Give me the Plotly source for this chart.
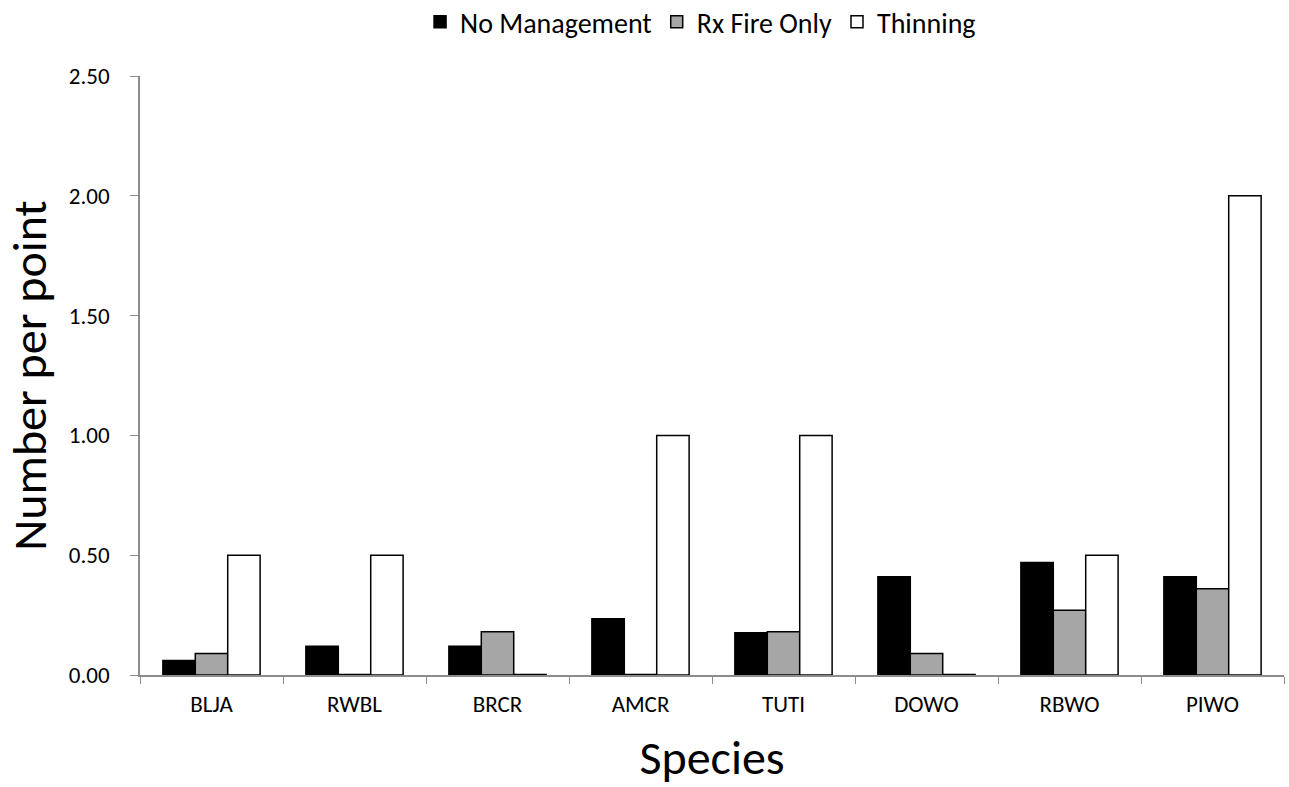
import plotly.graph_objects as go

species = ["BLJA", "RWBL", "BRCR", "AMCR", "TUTI", "DOWO", "RBWO", "PIWO"]
no_management = [0.06, 0.12, 0.12, 0.235, 0.176, 0.41, 0.47, 0.41]
rx_fire_only = [0.09, 0.002, 0.18, 0.002, 0.18, 0.09, 0.27, 0.36]
thinning = [0.50, 0.50, 0.002, 1.00, 1.00, 0.002, 0.50, 2.00]

y_ticks = [0, 0.5, 1.0, 1.5, 2.0, 2.5]

FONT = "Carlito, Calibri, Lato, sans-serif"
AXIS_GRAY = "#8c8c8c"

fig = go.Figure()
fig.add_trace(go.Bar(name="No Management", x=species, y=no_management,
                     marker=dict(color="black", line=dict(color="black", width=1.5))))
fig.add_trace(go.Bar(name="Rx Fire Only", x=species, y=rx_fire_only,
                     marker=dict(color="#a6a6a6", line=dict(color="black", width=1.5))))
fig.add_trace(go.Bar(name="Thinning", x=species, y=thinning,
                     marker=dict(color="white", line=dict(color="black", width=1.5))))

fig.update_layout(
    width=1289, height=787,
    barmode="group", bargap=0.32, bargroupgap=0,
    plot_bgcolor="white", paper_bgcolor="white",
    margin=dict(l=140, r=5, t=76, b=112, autoexpand=False),
    font=dict(family=FONT, color="black"),
    legend=dict(orientation="h", x=0.49, xanchor="center",
                yref="container", y=0.972, yanchor="middle",
                font=dict(size=28, family=FONT), itemwidth=30, traceorder="normal"),
    xaxis=dict(
        title=dict(text="Species", font=dict(size=48, family=FONT), standoff=28),
        showline=True, linecolor=AXIS_GRAY, linewidth=1.5,
        ticks="outside", tickson="boundaries", ticklen=7, tickcolor=AXIS_GRAY,
        ticklabelstandoff=8,
        tickfont=dict(size=23, family=FONT), showgrid=False,
    ),
    yaxis=dict(
        title=dict(text="Number per point", font=dict(size=48, family=FONT), standoff=10),
        range=[0, 2.5], tickvals=y_ticks, tickformat=".2f",
        showline=True, linecolor=AXIS_GRAY, linewidth=1.5,
        ticks="outside", ticklen=8, tickcolor=AXIS_GRAY,
        ticklabelstandoff=16,
        tickfont=dict(size=23, family=FONT), showgrid=False, zeroline=False,
    ),
)

fig.write_html("out.html")
